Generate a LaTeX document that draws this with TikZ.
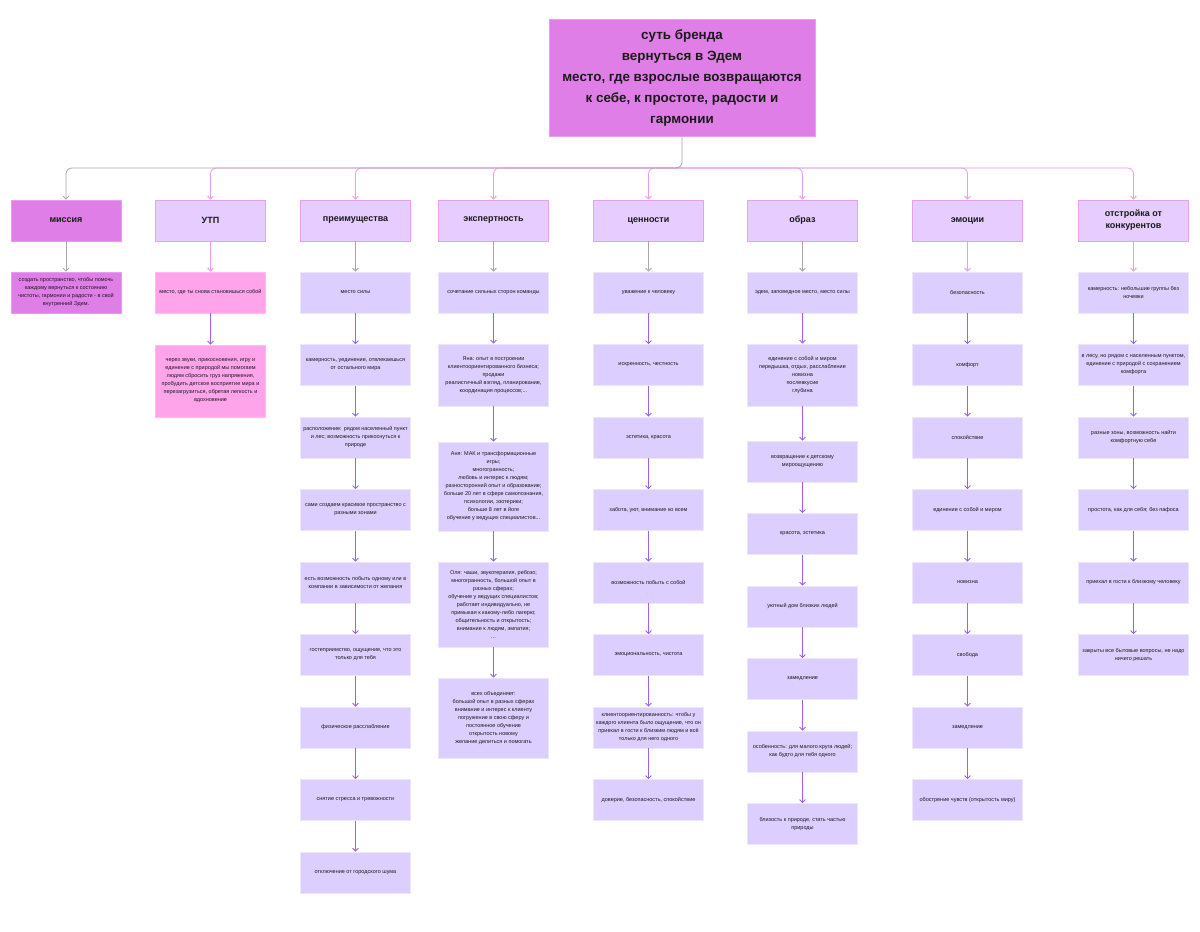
\documentclass[tikz,border=0pt]{standalone}
\usepackage{fontspec}
\setmainfont{Liberation Sans}
\usetikzlibrary{arrows.meta}

\definecolor{orhid}{HTML}{E07EE8}
\definecolor{rozov}{HTML}{FDA4EA}
\definecolor{lavanda}{HTML}{E6CCFF}
\definecolor{siren}{HTML}{DCCEFF}
\definecolor{kontur}{HTML}{E6A0F0}
\definecolor{svetkontur}{HTML}{EEE8F6}
\definecolor{fiolet}{HTML}{9B61EE}
\definecolor{seryj}{HTML}{A8A8A8}
\definecolor{rozlin}{HTML}{E99EEC}
\definecolor{tekst}{HTML}{1A1A1A}

\tikzset{
  yashik/.style={rectangle, minimum width=110pt, minimum height=41pt,
    inner sep=2pt, align=center, text=tekst},
  sutbox/.style={yashik, fill=orhid, draw=orhid!75!white, line width=0.8pt,
    minimum width=266pt, minimum height=117pt,
    font=\bfseries\fontsize{13.4}{21}\selectfont},
  glava/.style={yashik, fill=lavanda, draw=kontur, line width=0.8pt,
    font=\bfseries\fontsize{9}{12}\selectfont},
  glavaM/.style={glava, fill=orhid, draw=orhid!75!white},
  punkt/.style={yashik, fill=siren, draw=svetkontur, line width=0.8pt,
    font=\fontsize{5.5}{8}\selectfont},
  punktM/.style={punkt, fill=orhid, draw=orhid!75!white},
  punktR/.style={punkt, fill=rozov, draw=rozov!75!white},
  strelka/.style={draw=fiolet, line width=0.8pt,
    -{Straight Barb[length=3pt,width=6pt]}},
  strelkaS/.style={strelka, draw=seryj},
  strelkaR/.style={strelka, draw=rozlin},
}

\begin{document}
\begin{tikzpicture}[x=1pt, y=-1pt]
  % 1. фон
  \fill[white] (0,0) rectangle (1200,932);
  \useasboundingbox (0,0) rectangle (1200,932);

  % 2. суть бренда
  \node[sutbox] (sut) at (682,78) {суть бренда\\вернуться в Эдем\\место, где взрослые возвращаются\\к себе, к простоте, радости и\\гармонии};

  % 3. заголовки столбцов
  \node[glavaM] (h1) at (66,220.5) {миссия};
  \foreach \x/\t [count=\i from 2] in {210.5/УТП, 355.5/преимущества, 493.5/экспертность,
      648.5/ценности, 802.5/образ, 967.5/эмоции, 1133.5/{отстройка от\\конкурентов}}
    \node[glava] (h\i) at (\x,220.5) {\t};

  % 4. шина от сути к заголовкам
  \coordinate (shina) at (0,168);
  \foreach \i in {2,...,8}
    \draw[strelkaR, rounded corners=6pt] (sut.south |- shina) -| (h\i.north);
  \draw[strelkaS, rounded corners=6pt] (sut.south) -- (sut.south |- shina) -| (h1.north);

  % 5. миссия
  \node[punktM] (c1-1) at (66,292.5) {создать пространство, чтобы помочь\\каждому вернуться к состоянию\\чистоты, гармонии и радости - в свой\\внутренний Эдем.};
  \draw[strelkaS] (h1) -- (c1-1);

  % 6. УТП
  \node[punktR] (c2-1) at (210.5,292.5) {место, где ты снова становишься собой};
  \node[punktR, minimum height=72pt] (c2-2) at (210.5,381) {через звуки, прикосновения, игру и\\единение с природой мы помогаем\\людям сбросить груз напряжения,\\пробудить детское восприятие мира и\\перезагрузиться, обретая легкость и\\вдохновение};
  \draw[strelkaR] (h2) -- (c2-1);
  \draw[strelka] (c2-1) -- (c2-2);

  % 7. преимущества
  \foreach \t [count=\i] in {{место силы},
      {камерность, уединение, отвлекаешься\\от остального мира},
      {расположение: рядом населенный пункт\\и лес; возможность прикоснуться к\\природе},
      {сами создаем красивое пространство с\\разными зонами},
      {есть возможность побыть одному или в\\компании в зависимости от желания},
      {гостеприимство, ощущение, что это\\только для тебя},
      {физическое расслабление},
      {снятие стресса и тревожности},
      {отключение от городского шума}}
    \node[punkt] (c3-\i) at (355.5,{292.5+72.5*(\i-1)}) {\t};
  \draw[strelkaS] (h3) -- (c3-1);
  \foreach \i [remember=\i as \pred (initially 1)] in {2,...,9}
    \draw[strelka] (c3-\pred) -- (c3-\i);

  % 8. экспертность
  \node[punkt] (c4-1) at (493.5,292.5) {сочетание сильных сторон команды};
  \node[punkt, minimum height=62pt] (c4-2) at (493.5,375) {Яна: опыт в построении\\клиентоориентированного бизнеса;\\продажи\\реалистичный взгляд, планирование,\\координация процессов;...};
  \node[punkt, minimum height=89pt] (c4-3) at (493.5,486.5) {Аня: МАК и трансформационные\\игры;\\многогранность;\\любовь и интерес к людям;\\разносторонний опыт и образование;\\больше 20 лет в сфере самопознания,\\психологии, эзотерики;\\больше 8 лет в йоге\\обучение у ведущих специалистов...};
  \node[punkt, minimum height=85pt] (c4-4) at (493.5,604.5) {Оля: чаши, звукотерапия, ребозо;\\многогранность, большой опыт в\\разных сферах;\\обучение у ведущих специалистов;\\работает индивидуально, не\\примыкая к какому-либо лагерю;\\общительность и открытость;\\внимание к людям, эмпатия;\\...};
  \node[punkt, minimum height=80pt] (c4-5) at (493.5,718) {всех объединяет:\\большой опыт в разных сферах\\внимание и интерес к клиенту\\погружение в свою сферу и\\постоянное обучение\\открытость новому\\желание делиться и помогать};
  \draw[strelkaS] (h4) -- (c4-1);
  \foreach \i [remember=\i as \pred (initially 1)] in {2,...,5}
    \draw[strelka] (c4-\pred) -- (c4-\i);

  % 9. ценности
  \foreach \t [count=\i] in {{уважение к человеку},
      {искренность, честность},
      {эстетика, красота},
      {забота, уют, внимание ко всем},
      {возможность побыть с собой},
      {эмоциональность, чистота},
      {клиентоориентированность: чтобы у\\каждого клиента было ощущение, что он\\приехал в гости к близким людям и всё\\только для него одного},
      {доверие, безопасность, спокойствие}}
    \node[punkt] (c5-\i) at (648.5,{292.5+72.5*(\i-1)}) {\t};
  \draw[strelkaS] (h5) -- (c5-1);
  \foreach \i [remember=\i as \pred (initially 1)] in {2,...,8}
    \draw[strelka] (c5-\pred) -- (c5-\i);

  % 10. образ
  \node[punkt] (c6-1) at (802.5,292.5) {эдем, заповедное место, место силы};
  \node[punkt, minimum height=62pt] (c6-2) at (802.5,375) {единение с собой и миром\\передышка, отдых, расслабление\\новизна\\послевкусие\\глубина};
  \foreach \t [count=\i from 3] in {{возвращение к детскому\\мироощущению},
      {красота, эстетика},
      {уютный дом близких людей},
      {замедление},
      {особенность: для малого круга людей;\\как будто для тебя одного},
      {близость к природе, стать частью\\природы}}
    \node[punkt] (c6-\i) at (802.5,{461.5+72.5*(\i-3)}) {\t};
  \draw[strelkaS] (h6) -- (c6-1);
  \foreach \i [remember=\i as \pred (initially 1)] in {2,...,8}
    \draw[strelka] (c6-\pred) -- (c6-\i);

  % 11. эмоции
  \foreach \t [count=\i] in {безопасность, комфорт, спокойствие,
      единение с собой и миром, новизна, свобода, замедление,
      обострение чувств (открытость миру)}
    \node[punkt] (c7-\i) at (967.5,{292.5+72.5*(\i-1)}) {\t};
  \draw[strelkaR] (h7) -- (c7-1);
  \foreach \i [remember=\i as \pred (initially 1)] in {2,...,8}
    \draw[strelka] (c7-\pred) -- (c7-\i);

  % 12. отстройка от конкурентов
  \foreach \t [count=\i] in {{камерность: небольшие группы без\\ночевки},
      {в лесу, но рядом с населенным пунктом,\\единение с природой с сохранением\\комфорта},
      {разные зоны, возможность найти\\комфортную себе},
      {простота, как для себя; без пафоса},
      {приехал в гости к близкому человеку},
      {закрыты все бытовые вопросы, не надо\\ничего решать}}
    \node[punkt] (c8-\i) at (1133.5,{292.5+72.5*(\i-1)}) {\t};
  \draw[strelkaR] (h8) -- (c8-1);
  \foreach \i [remember=\i as \pred (initially 1)] in {2,...,6}
    \draw[strelka] (c8-\pred) -- (c8-\i);
\end{tikzpicture}
\end{document}
